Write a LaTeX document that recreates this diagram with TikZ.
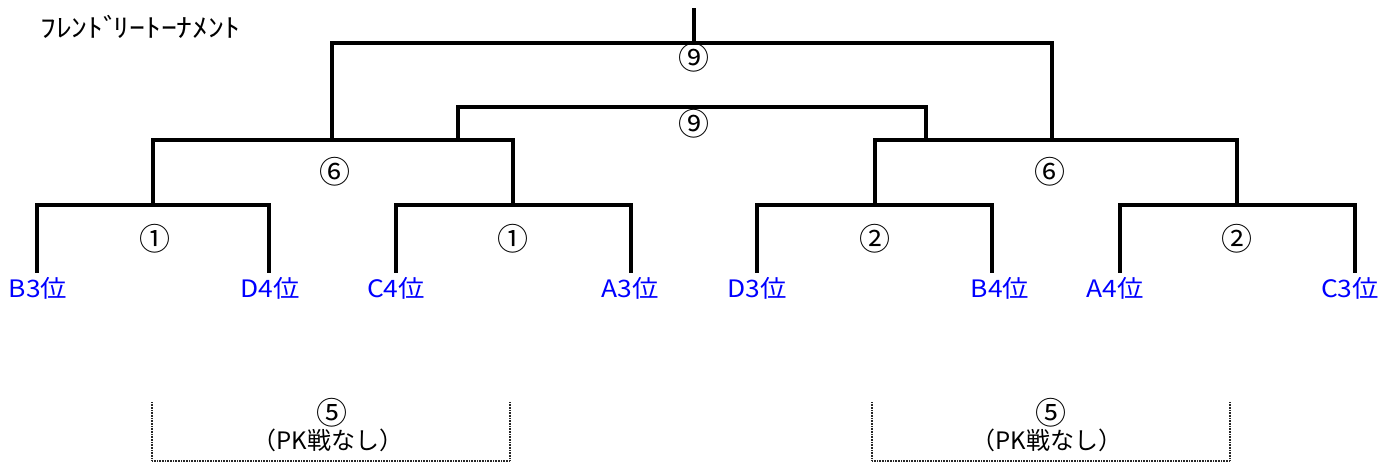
\documentclass[tikz,border=0pt]{standalone}
\usepackage{fontspec}
\setmainfont{Noto Sans CJK JP}
\begin{document}
\begin{tikzpicture}[x=1pt,y=-1pt,
  line/.style={line width=3.2pt,line cap=rect},
  dotline/.style={line width=2.6pt,color=black!85,dash pattern=on 0.9pt off 0.7pt},
  team/.style={text=blue,font=\fontsize{24}{24}\selectfont,inner sep=0pt,xscale=1.1},
  num/.style={font=\fontsize{31}{31}\selectfont,inner sep=0pt},
  note/.style={font=\fontsize{24}{24}\selectfont,inner sep=0pt}]
\useasboundingbox (0,0) rectangle (1392,468);
% title
\node[inner sep=0pt,font=\fontsize{26}{26}\selectfont,xscale=1.22,anchor=west] (title) at (40,27) {ﾌﾚﾝﾄﾞ\kern-5pt ﾘｰﾄｰﾅﾒﾝﾄ};
% coordinates
\coordinate (root) at (694,10);
\coordinate (top) at (694,43);
\coordinate (mid) at (694,107);
\coordinate (q6L) at (332,140);
\coordinate (q6R) at (1052,140);
\coordinate (s6L) at (458,140);
\coordinate (s6R) at (926,140);
\coordinate (m1a) at (153,205);
\coordinate (m1b) at (513,205);
\coordinate (m2a) at (875,205);
\coordinate (m2b) at (1237,205);
\coordinate (e1) at (37,271);
\coordinate (e2) at (269,271);
\coordinate (e3) at (396,271);
\coordinate (e4) at (631,271);
\coordinate (e5) at (757,271);
\coordinate (e6) at (992,271);
\coordinate (e7) at (1120,271);
\coordinate (e8) at (1355,271);
% brackets
\draw[line] (root) -- (top);
\draw[line] (q6L) |- (top) -| (q6R);
\draw[line] (s6L) |- (mid) -| (s6R);
\draw[line] (m1a) |- (q6L) -| (m1b);
\draw[line] (m2a) |- (q6R) -| (m2b);
\draw[line] (e1) |- (m1a) -| (e2);
\draw[line] (e3) |- (m1b) -| (e4);
\draw[line] (e5) |- (m2a) -| (e6);
\draw[line] (e7) |- (m2b) -| (e8);
% match numbers
\node[num] (n9a) at (694,58) {⑨};
\node[num] (n9b) at (694,124) {⑨};
\node[num] (n6a) at (335,172) {⑥};
\node[num] (n6b) at (1050,172) {⑥};
\node[num] (n1a) at (155,239) {①};
\node[num] (n1b) at (513,239) {①};
\node[num] (n2a) at (875,239) {②};
\node[num] (n2b) at (1237,239) {②};
% teams
\node[team] (B3) at (38,288) {B3位};
\node[team] (D4) at (270,288) {D4位};
\node[team] (C4) at (396,288) {C4位};
\node[team] (A3) at (630,288) {A3位};
\node[team] (D3) at (757,288) {D3位};
\node[team] (B4) at (1000,288) {B4位};
\node[team] (A4) at (1115,288) {A4位};
\node[team] (C3) at (1350,288) {C3位};
% dotted brackets
\coordinate (d1a) at (152,402);
\coordinate (d1b) at (152,461);
\coordinate (d1c) at (510,461);
\coordinate (d1d) at (510,402);
\coordinate (d2a) at (872,402);
\coordinate (d2b) at (872,461);
\coordinate (d2c) at (1230,461);
\coordinate (d2d) at (1230,402);
\draw[dotline] (d1a) -- (d1b) -- (d1c) -- (d1d);
\draw[dotline] (d2a) -- (d2b) -- (d2c) -- (d2d);
\node[num] (n5a) at (332,413) {⑤};
\node[note] (pka) at (328,440) {（PK戦なし）};
\node[num] (n5b) at (1051,413) {⑤};
\node[note] (pkb) at (1047,440) {（PK戦なし）};
\end{tikzpicture}
\end{document}
